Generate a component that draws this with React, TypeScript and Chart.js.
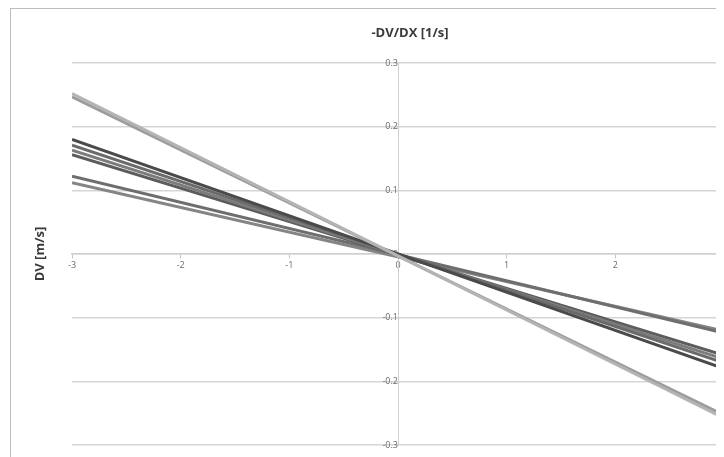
import React, { useEffect, useRef } from "react";
import { Chart, registerables } from "chart.js";

Chart.register(...registerables);

// Horizontal velocity gradient axis and velocity difference axis
const X_TICKS = [-3, -2, -1, 0, 1, 2, 3];
const Y_TICKS = [-0.3, -0.2, -0.1, 0, 0.1, 0.2, 0.3];
const X_ENDS = [-3, 3];

// DV at the two ends of each fitted line (x = -3, x = 3)
const LINE_A = [0.252, -0.258];
const LINE_B = [0.247, -0.253];
const LINE_C = [0.180, -0.180];
const LINE_D = [0.171, -0.171];
const LINE_E = [0.163, -0.165];
const LINE_F = [0.156, -0.159];
const LINE_G = [0.122, -0.124];
const LINE_H = [0.112, -0.121];

const SERIES = [
  { values: LINE_A, color: "#b4b4b4" },
  { values: LINE_B, color: "#9c9c9c" },
  { values: LINE_C, color: "#4a4a4a" },
  { values: LINE_D, color: "#6a6a6a" },
  { values: LINE_E, color: "#7c7c7c" },
  { values: LINE_F, color: "#5c5c5c" },
  { values: LINE_G, color: "#6e6e6e" },
  { values: LINE_H, color: "#858585" },
];

const TITLE_X = "-DV/DX [1/s]";
const TITLE_Y = "DV [m/s]";

const axisTitles = {
  id: "axisTitles",
  afterDraw(chart: any) {
    const { ctx, chartArea } = chart;
    ctx.save();
    ctx.fillStyle = "#3a3a3a";
    ctx.font = 'bold 13px "Open Sans"';
    ctx.textAlign = "center";
    ctx.textBaseline = "middle";
    ctx.fillText(TITLE_X, 402, 25);
    ctx.translate(32, (chartArea.top + chartArea.bottom) / 2);
    ctx.rotate(-Math.PI / 2);
    ctx.fillText(TITLE_Y, 0, 0);
    ctx.restore();
  },
};

export default function App() {
  const ref = useRef<HTMLCanvasElement | null>(null);

  useEffect(() => {
    if (!ref.current) return;
    const chart = new Chart(ref.current, {
      type: "scatter",
      data: {
        datasets: SERIES.map((s, i) => ({
          label: "L" + (i + 1),
          data: X_ENDS.map((x, j) => ({ x, y: s.values[j] })),
          showLine: true,
          borderColor: s.color,
          backgroundColor: s.color,
          borderWidth: 3,
          pointRadius: 0,
          fill: false,
        })),
      },
      options: {
        animation: false,
        responsive: false,
        layout: { padding: { left: 64, top: 55, right: 24, bottom: 12 } },
        plugins: {
          legend: { display: false },
          tooltip: { enabled: false },
        },
        scales: {
          x: {
            type: "linear",
            position: { y: 0 } as any,
            min: -3,
            max: 3,
            afterBuildTicks: (scale: any) => {
              scale.ticks = X_TICKS.map((v) => ({ value: v }));
            },
            ticks: {
              color: "#6a6a6a",
              font: { size: 9, family: "Open Sans" },
              padding: 2,
              maxRotation: 0,
              callback: (v: any) => String(v),
            },
            grid: {
              drawOnChartArea: false,
              drawTicks: true,
              tickLength: 4,
              color: "#c8c8c8",
            },
            border: { color: "#d0d0d0", width: 1.5 },
          },
          y: {
            type: "linear",
            position: { x: 0 } as any,
            min: -0.3,
            max: 0.3,
            afterBuildTicks: (scale: any) => {
              scale.ticks = Y_TICKS.map((v) => ({ value: v }));
            },
            ticks: {
              color: "#6a6a6a",
              font: { size: 9, family: "Open Sans" },
              padding: 2,
              callback: (v: any) => String(v),
            },
            grid: {
              color: "#d6d6d6",
              lineWidth: 1.5,
              tickLength: 5,
            },
            border: { color: "#d0d0d0", width: 1 },
          },
        },
      },
      plugins: [axisTitles],
    });
    return () => chart.destroy();
  }, []);

  return (
    <div style={{ position: "relative", width: 716, height: 449, overflow: "hidden", background: "#fff" }}>
      <div
        style={{
          position: "absolute",
          left: 2,
          top: 0,
          width: 800,
          height: 500,
          borderLeft: "1px solid #bdbdbd",
          borderTop: "1px solid #bdbdbd",
        }}
      />
      <canvas ref={ref} width={740} height={449} style={{ position: "absolute", left: 0, top: 0 }} />
    </div>
  );
}
